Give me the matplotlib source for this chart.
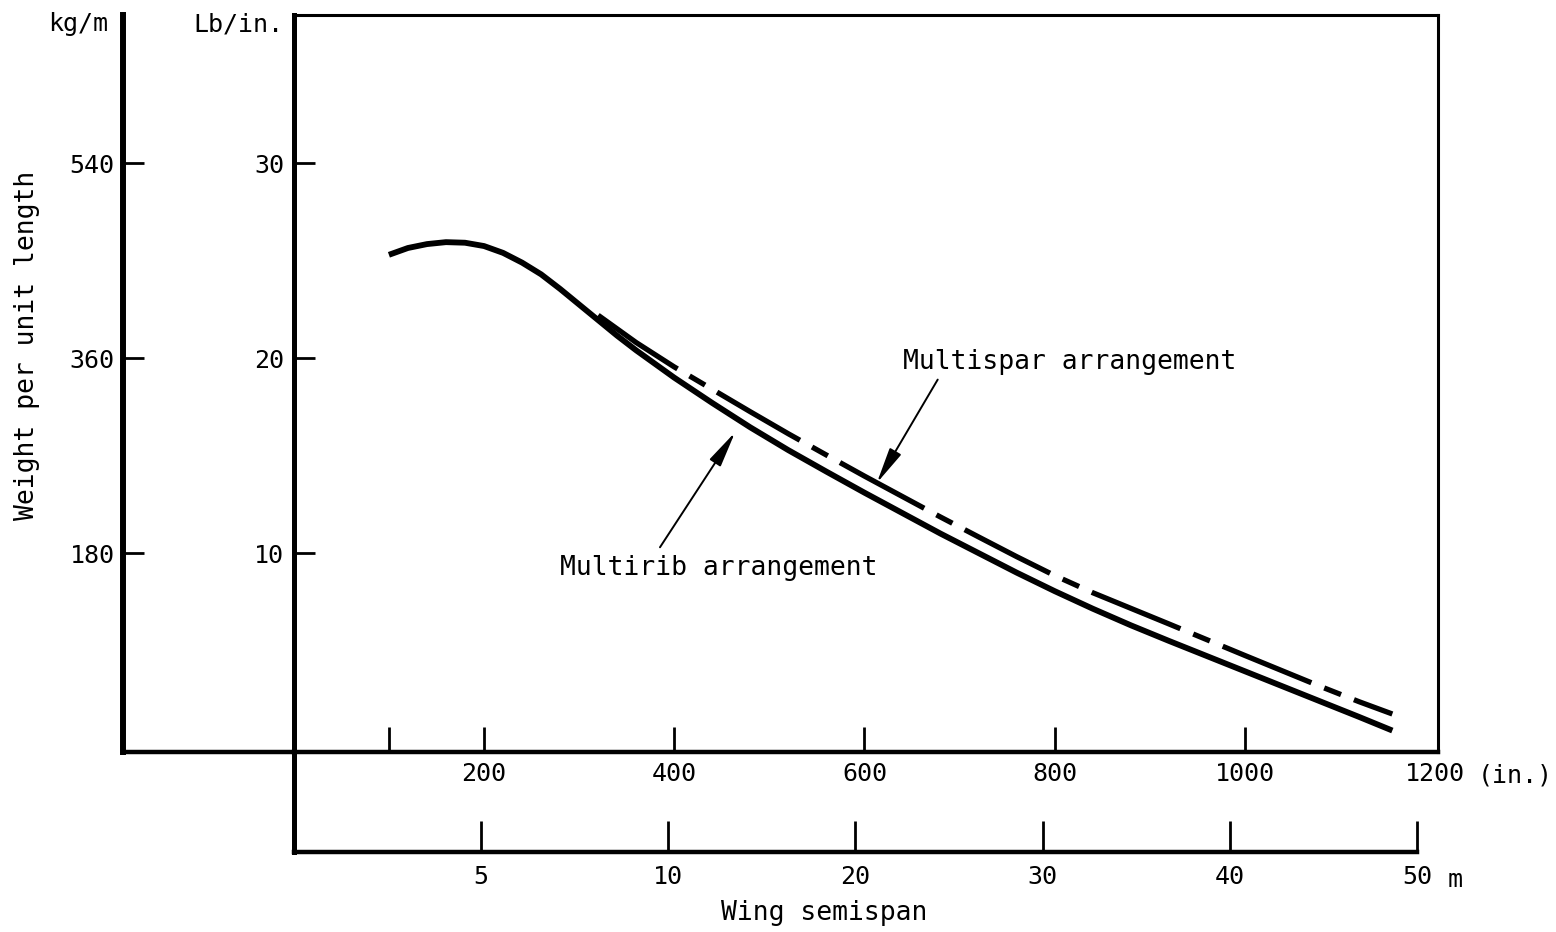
import matplotlib
matplotlib.use('Agg')
import matplotlib.pyplot as plt

plt.rcParams['font.family'] = ['DejaVu Sans Mono', 'DejaVu Sans']
plt.rcParams['lines.scale_dashes'] = False

# ---- data ----
span_rib = [100, 120, 140, 160, 180, 200, 220, 240, 260, 280, 300, 320, 340, 360,
            400, 440, 480, 520, 560, 600, 640, 680, 720, 760, 800, 840, 880, 920,
            960, 1000, 1040, 1080, 1120, 1155]
w_rib = [25.3, 25.65, 25.85, 25.95, 25.92, 25.75, 25.4, 24.9, 24.3, 23.55, 22.75,
         21.95, 21.15, 20.4, 19.0, 17.7, 16.45, 15.28, 14.18, 13.1, 12.05, 11.0,
         10.0, 9.0, 8.05, 7.15, 6.3, 5.5, 4.72, 3.94, 3.16, 2.38, 1.6, 0.9]
span_spar = [320, 360, 400, 440, 480, 520, 560, 600, 640, 680, 720, 760, 800, 840,
             880, 920, 960, 1000, 1040, 1080, 1120, 1155]
w_spar = [22.2, 20.8, 19.55, 18.4, 17.25, 16.12, 15.03, 13.95, 12.9, 11.85, 10.83,
          9.82, 8.85, 7.97, 7.17, 6.37, 5.56, 4.75, 3.95, 3.15, 2.38, 1.75]

in_ticks = [100, 200, 400, 600, 800, 1000, 1200]
in_labels = ['', '200', '400', '600', '800', '1000', '1200']
m_ticks = [5, 10, 15, 20, 25, 30]
m_labels = ['5', '10', '20', '30', '40', '50']
lb_ticks = [10, 20, 30]
kg_ticks = [180, 360, 540]
IN_PER_M = 39.37
KG_PER_LB = 18.0

FS = 18
FT = 19
W, H = 1556, 932
L, R, T, B = 293.8, 1438, 15, 752

fig = plt.figure(figsize=(W / 100, H / 100), dpi=100)
ax = fig.add_axes([L / W, 1 - B / H, (R - L) / W, (B - T) / H])
ax.set_xlim(0, 1203)
ax.set_ylim(-0.2, 37.6)

loc_kg = (123 - L) / (R - L)
loc_m = (B - 852) / (B - T)

# curves
ax.plot(span_rib, w_rib, color='black', lw=4.2, solid_capstyle='butt',
        solid_joinstyle='round')
ax.plot(span_spar, w_spar, color='black', lw=3.8, linestyle=(0, (69, 10, 13, 10)),
        dash_capstyle='butt', dash_joinstyle='round')

# spines
ax.spines['left'].set_linewidth(3.6)
ax.spines['bottom'].set_linewidth(3.2)
ax.spines['top'].set_linewidth(2.2)
ax.spines['right'].set_linewidth(2.2)
ax.plot([0, 0], [0, loc_m], transform=ax.transAxes, color='black', lw=3.6,
        clip_on=False, solid_capstyle='projecting')
ax.plot([loc_kg, 0], [0, 0], transform=ax.transAxes, color='black', lw=3.2,
        clip_on=False, solid_capstyle='projecting')

# inch axis
ax.set_xticks(in_ticks)
ax.set_xticklabels(in_labels)
ax.tick_params(axis='x', direction='in', length=18, width=2, pad=7, labelsize=FS)
ax.xaxis.get_major_ticks()[-1].tick1line.set_visible(False)

# lb/in axis
ax.set_yticks(lb_ticks)
ax.tick_params(axis='y', direction='in', length=15, width=2, pad=7, labelsize=FS)

# kg/m axis
sec_y = ax.secondary_yaxis(loc_kg, functions=(lambda v: v * KG_PER_LB,
                                              lambda v: v / KG_PER_LB))
sec_y.set_yticks(kg_ticks)
sec_y.tick_params(direction='in', length=15, width=2, pad=6, labelsize=FS)
sec_y.spines['left'].set_linewidth(4.3)

# metre axis
sec_x = ax.secondary_xaxis(loc_m, functions=(lambda v: v / IN_PER_M,
                                             lambda v: v * IN_PER_M))
sec_x.set_xticks(m_ticks)
sec_x.set_xticklabels(m_labels)
sec_x.tick_params(direction='in', length=22, width=2, pad=9, labelsize=FS)
sec_x.spines['bottom'].set_linewidth(3.2)
sec_x.spines['bottom'].set_bounds(0, m_ticks[-1])

# texts
fig.text(108 / W, 1 - 24 / H, 'kg/m', ha='right', va='center', fontsize=FS)
fig.text(283 / W, 1 - 24 / H, 'Lb/in.', ha='right', va='center', fontsize=FS)
fig.text(27 / W, 1 - 345 / H, 'Weight per unit length', rotation=90,
         ha='center', va='center', fontsize=FT)
fig.text(1478 / W, 1 - 776 / H, '(in.)', ha='left', va='center', fontsize=FS)
fig.text(1448 / W, 1 - 880 / H, 'm', ha='left', va='center', fontsize=FS)
fig.text(824 / W, 1 - 913 / H, 'Wing semispan', ha='center', va='center', fontsize=FT)

arrow = dict(arrowstyle='-|>,head_width=0.2,head_length=1.1', color='black',
             lw=1.4, shrinkA=0, shrinkB=0, mutation_scale=20)
ax.text(640.6, 19.8, 'Multispar arrangement', ha='left', va='center', fontsize=FT)
ax.annotate('', xy=(613, 13.6), xytext=(677, 18.9), arrowprops=arrow)
ax.text(280, 9.23, 'Multirib arrangement', ha='left', va='center', fontsize=FT)
ax.annotate('', xy=(464, 16.2), xytext=(385, 10.3), arrowprops=arrow)

fig.savefig('out.png', dpi=100)
